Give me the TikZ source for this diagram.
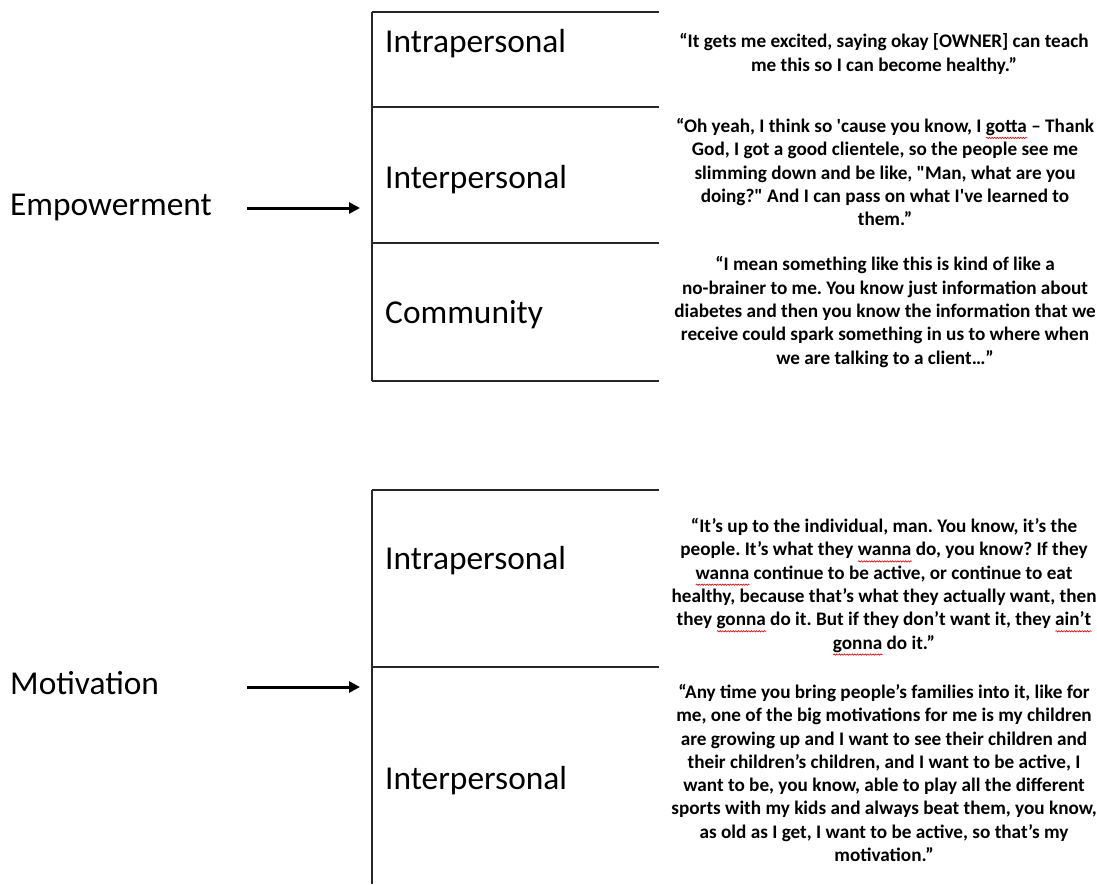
\documentclass[tikz,border=0pt]{standalone}
\usepackage{fontspec}
\setmainfont{Carlito}[Ligatures=TeXReset]
\usetikzlibrary{arrows.meta,decorations.pathmorphing}
\newsavebox\sqbox
\newcommand\sqw[1]{\sbox\sqbox{#1}\rlap{\tikz[x=1pt,y=1pt,baseline=0pt]\draw[red!85!black,line width=0.6pt,decorate,decoration={snake,amplitude=0.7pt,segment length=2.6pt}] (0,-5.5) -- (\the\wd\sqbox,-5.5);}\usebox\sqbox}
\tikzset{
  lbl/.style={font=\fontsize{33.4}{40}\selectfont, anchor=base west, inner sep=0pt},
  quote/.style={font=\bfseries\fontsize{19.2}{23.3}\selectfont\frenchspacing, align=center, inner sep=0pt},
  rule/.style={line width=2pt, draw=black!85},
  arr/.style={line width=3pt, -{Triangle[length=11pt,width=11pt]}},
}
\begin{document}
\begin{tikzpicture}[x=1pt,y=-1pt]
\useasboundingbox[fill=white] (0,0) rectangle (1097,884);
% frames
\draw[rule] (372,12) -- (372,381);
\draw[rule] (372,12) -- (659,12);
\draw[rule] (372,107) -- (659,107);
\draw[rule] (372,243) -- (659,243);
\draw[rule] (372,381) -- (659,381);
\draw[rule] (372,490) -- (372,884);
\draw[rule] (372,490) -- (659,490);
\draw[rule] (372,667) -- (659,667);
\coordinate (e1) at (372,208);
\coordinate (m1) at (372,687);
% labels
\node[lbl] (emp) at (10,215) {Empowerment};
\node[lbl] (mot) at (10,694) {Motivation};
\node[lbl] (a1) at (385,52) {Intrapersonal};
\node[lbl] (a2) at (385,188) {Interpersonal};
\node[lbl] (a3) at (385,323) {Community};
\node[lbl] (b1) at (385,569) {Intrapersonal};
\node[lbl] (b2) at (385,789) {Interpersonal};
\coordinate (e0) at (247,208);
\coordinate (m0) at (247,687);
\draw[arr] (e0) -- ([xshift=-12pt]e1);
\draw[arr] (m0) -- ([xshift=-12pt]m1);
% quotes
\node[quote] (q1) at (884,54) {“It gets me excited, saying okay [OWNER] can teach\\ me this so I can become healthy.”};
\node[quote] (q2) at (885,172) {“Oh yeah, I think so 'cause you know, I \sqw{gotta} – Thank\\ God, I got a good clientele, so the people see me\\ slimming down and be like, "Man, what are you\\ doing?" And I can pass on what I've learned to\\ them.”};
\node[quote] (q3) at (885,312) {“I mean something like this is kind of like a\\ no-brainer to me. You know just information about\\ diabetes and then you know the information that we\\ receive could spark something in us to where when\\ we are talking to a client…”};
\node[quote] (q4) at (884,587) {“It’s up to the individual, man. You know, it’s the\\ people. It’s what they \sqw{wanna} do, you know? If they\\ \sqw{wanna} continue to be active, or continue to eat\\ healthy, because that’s what they actually want, then\\ they \sqw{gonna} do it. But if they don’t want it, they \sqw{ain’t}\\ \sqw{gonna} do it.”};
\node[quote] (q5) at (884,773) {“Any time you bring people’s families into it, like for\\ me, one of the big motivations for me is my children\\ are growing up and I want to see their children and\\ their children’s children, and I want to be active, I\\ want to be, you know, able to play all the different\\ sports with my kids and always beat them, you know,\\ as old as I get, I want to be active, so that’s my\\ motivation.”};
\end{tikzpicture}
\end{document}
